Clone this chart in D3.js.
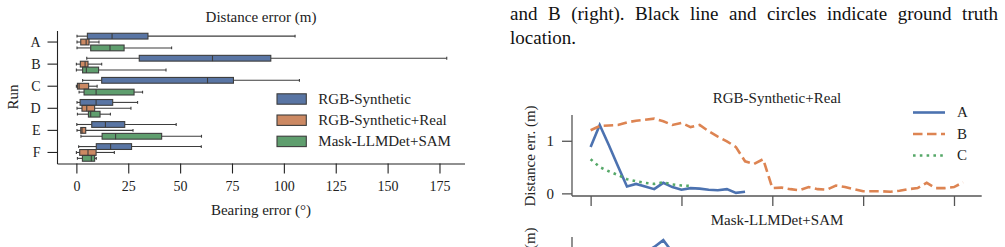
<!doctype html>
<html>
<head>
<meta charset="UTF-8" />
<script src="https://cdn.jsdelivr.net/npm/d3@7"></script>
<style>
  body { margin: 0; background: #fff; }
  svg { display: block; font-family: "Liberation Serif", "Times New Roman", serif; }
</style>
</head>
<body>
<svg id="page" width="1005" height="247"></svg>
<script>
// ---- data ----
const runs = ["A", "B", "C", "D", "E", "F"];
const methods = ["RGB-Synthetic", "RGB-Synthetic+Real", "Mask-LLMDet+SAM"];
// per run: [whisker low, q1, median, q3, whisker high] of bearing error (deg)
const rgbSynthetic = [[0.3, 5.3, 17.2, 34.5, 105.4], [5.0, 30.3, 65.6, 93.7, 178.5], [3.0, 12.2, 63.2, 75.7, 107.5],
  [0.3, 1.8, 9.5, 17.5, 29.5], [0.2, 7.4, 14.0, 23.3, 48.1], [1.1, 9.6, 16.5, 26.6, 60.2]];
const rgbSynthReal = [[0.3, 2.1, 4.7, 6.1, 10.9], [0, 1.9, 4.2, 5.6, 12.2], [0, 0.5, 1.3, 5.9, 10.0],
  [0.3, 2.7, 5.0, 8.8, 26.3], [0.3, 2.1, 2.7, 4.5, 27.3], [0, 1.6, 5.6, 9.5, 18.3]];
const maskLLMDet = [[0.3, 6.9, 16.2, 23.0, 45.9], [0, 3.0, 4.8, 10.7, 43.2], [1.3, 3.7, 9.5, 27.8, 31.9],
  [0.5, 5.8, 6.9, 11.4, 16.4], [2.2, 12.4, 18.9, 41.1, 60.3], [0.5, 2.9, 7.2, 8.8, 9.6]];
const bearingTicks = [0, 25, 50, 75, 100, 125, 150, 175];

// distance error per frame, RGB-Synthetic+Real panel
const realA = [0.88, 1.30, 0.92, 0.52, 0.13, 0.18, 0.13, 0.08, 0.20, 0.12, 0.07, 0.10, 0.09, 0.07, 0.06, 0.08, 0.01, 0.03];
const realB = [1.20, 1.28, 1.29, 1.30, 1.35, 1.38, 1.40, 1.42, 1.37, 1.30, 1.34, 1.26, 1.30, 1.18, 1.08, 0.99, 0.88,
  0.61, 0.56, 0.65, 0.10, 0.11, 0.08, 0.06, 0.12, 0.08, 0.07, 0.15, 0.12, 0.08, 0.04, 0.04, 0.04, 0.03, 0.05, 0.08,
  0.10, 0.20, 0.10, 0.10, 0.12, 0.21];
const realC = [0.65, 0.50, 0.42, 0.35, 0.27, 0.23, 0.20, 0.18, 0.21, 0.17, 0.15, 0.14];
// Mask-LLMDet+SAM panel (only its top edge is in view)
const maskA = [0.6, 0.8, 0.9, 1.0, 1.05, 1.1, 1.2, 1.30, 1.43, 1.20, 0.9, 0.7];
const distTicks = [0, 1];
const frameTicks = [0, 10, 20, 30, 40];

const captionLines = ["and B (right). Black line and circles indicate ground truth", "location."];

const boxColors = ["#5975a4", "#cc8963", "#5f9e6e"];
const lineColors = ["#4c72b0", "#dd8452", "#55a868"];
const edge = "#3d3d3d";

const svg = d3.select("#page");

// ---------- left: box plot ----------
const x = d3.scaleLinear().domain([-9.1, 187.3]).range([57.5, 465]);
const y = d3.scaleBand().domain(runs).range([31, 163.5]);
const hue = d3.scaleBand().domain(methods).range([-0.4 * y.bandwidth(), 0.4 * y.bandwidth()]);

const left = svg.append("g");
const series = [rgbSynthetic, rgbSynthReal, maskLLMDet];

series.forEach((rows, m) => {
  const g = left.append("g");
  rows.forEach((s, i) => {
    const c = y(runs[i]) + y.bandwidth() / 2 + hue(methods[m]) + hue.bandwidth() / 2;
    const h = hue.bandwidth() * 0.98;
    // whiskers
    g.append("line").attr("x1", x(s[0])).attr("x2", x(s[1])).attr("y1", c).attr("y2", c)
      .attr("stroke", edge).attr("stroke-width", 1.1);
    g.append("line").attr("x1", x(s[3])).attr("x2", x(s[4])).attr("y1", c).attr("y2", c)
      .attr("stroke", edge).attr("stroke-width", 1.1);
    // caps
    [s[0], s[4]].forEach(v => {
      g.append("line").attr("x1", x(v)).attr("x2", x(v)).attr("y1", c - h / 4).attr("y2", c + h / 4)
        .attr("stroke", edge).attr("stroke-width", 1.1);
    });
    g.append("rect").attr("x", x(s[1])).attr("y", c - h / 2).attr("width", x(s[3]) - x(s[1])).attr("height", h)
      .attr("fill", boxColors[m]).attr("stroke", edge).attr("stroke-width", 1.1);
    g.append("line").attr("x1", x(s[2])).attr("x2", x(s[2])).attr("y1", c - h / 2).attr("y2", c + h / 2)
      .attr("stroke", edge).attr("stroke-width", 1.1);
  });
});

const xAxis = left.append("g").attr("transform", "translate(0,163.5)")
  .call(d3.axisBottom(x).tickValues(bearingTicks).tickSize(10).tickSizeOuter(0).tickPadding(8));
const yAxis = left.append("g").attr("transform", "translate(57.5,0)")
  .call(d3.axisLeft(y).tickSize(10).tickSizeOuter(0).tickPadding(7));
[xAxis, yAxis].forEach(a => {
  a.attr("font-family", null).attr("font-size", 14);
  a.selectAll("text").attr("fill", "#222");
  a.selectAll("line, path").attr("stroke", "#222").attr("stroke-width", 1.1);
});
xAxis.select(".domain").attr("d", "M57.5,0.5H465");
yAxis.select(".domain").attr("d", "M0,31V164");

left.append("text").attr("x", 261).attr("y", 22).attr("text-anchor", "middle")
  .attr("font-size", 15).attr("fill", "#222").text("Distance error (m)");
left.append("text").attr("x", 261).attr("y", 215).attr("text-anchor", "middle")
  .attr("font-size", 15).attr("fill", "#222").text("Bearing error (°)");
left.append("text").attr("transform", "translate(18,97) rotate(-90)").attr("text-anchor", "middle")
  .attr("font-size", 15).attr("fill", "#222").text("Run");

const leg = left.append("g").attr("transform", "translate(277,99)");
methods.forEach((name, m) => {
  const r = leg.append("g").attr("transform", `translate(0,${m * 21.2})`);
  r.append("rect").attr("x", 0).attr("y", -5.2).attr("width", 29.3).attr("height", 10.4)
    .attr("fill", boxColors[m]).attr("stroke", edge).attr("stroke-width", 1.1);
  r.append("text").attr("x", 41.3).attr("y", 0).attr("dy", "0.33em").attr("font-size", 15)
    .attr("fill", "#222").text(name);
});

// ---------- right: caption text (justified) ----------
const cap = svg.append("g").attr("font-size", 19).attr("fill", "#111");
const words = captionLines[0].split(" ");
const wEls = words.map(w => cap.append("text").attr("y", 20).text(w));
const widths = wEls.map(t => t.node().getComputedTextLength());
const x0 = 510, x1 = 998;
const gap = (x1 - x0 - d3.sum(widths)) / (words.length - 1);
let cx = x0;
wEls.forEach((t, i) => { t.attr("x", cx); cx += widths[i] + gap; });
cap.append("text").attr("x", x0).attr("y", 44).text(captionLines[1]);

// ---------- right: line panels ----------
const fx = d3.scaleLinear().domain([-2.05, 43.05]).range([572, 981.7]);
const line = yS => d3.line().x((d, i) => fx(i)).y(d => yS(d));
const styles = [
  { dash: null, w: 2.6 },
  { dash: "9.5,4.5", w: 2.6 },
  { dash: "2.6,4.2", w: 2.6 }
];

function panel(top, title, data, withLegend) {
  const g = svg.append("g");
  const yS = d3.scaleLinear().domain([-0.05, 1.49]).range([top + 81, top]);
  g.append("text").attr("x", 777).attr("y", top - 12).attr("text-anchor", "middle")
    .attr("font-size", 15).attr("fill", "#222").text(title);
  data.forEach((d, k) => {
    if (!d) return;
    g.append("path").datum(d).attr("d", line(yS)).attr("fill", "none")
      .attr("stroke", lineColors[k]).attr("stroke-width", styles[k].w)
      .attr("stroke-dasharray", styles[k].dash);
  });
  const ya = g.append("g").attr("transform", "translate(572,0)")
    .call(d3.axisLeft(yS).tickValues(distTicks).tickFormat(d3.format("d")).tickSize(10).tickSizeOuter(0).tickPadding(8));
  const xa = g.append("g").attr("transform", `translate(0,${top + 81})`)
    .call(d3.axisBottom(fx).tickValues(frameTicks).tickFormat("").tickSize(10).tickSizeOuter(0));
  [xa, ya].forEach(a => {
    a.attr("font-family", null).attr("font-size", 15);
    a.selectAll("text").attr("fill", "#222");
    a.selectAll("line, path").attr("stroke", "#555").attr("stroke-width", 1.3);
  });
  ya.select(".domain").attr("d", `M0,${top}V${top + 81}`);
  xa.select(".domain").attr("d", "M572,0H981.7");
  g.append("text").attr("transform", `translate(535,${top + 41}) rotate(-90)`).attr("text-anchor", "middle")
    .attr("font-size", 15).attr("fill", "#222").text("Distance err. (m)");
  if (withLegend) {
    const lg = g.append("g").attr("transform", "translate(913,112.5)");
    ["A", "B", "C"].forEach((n, k) => {
      const r = lg.append("g").attr("transform", `translate(0,${k * 21.5})`);
      r.append("line").attr("x1", 0).attr("x2", 32).attr("stroke", lineColors[k])
        .attr("stroke-width", styles[k].w).attr("stroke-dasharray", styles[k].dash);
      r.append("text").attr("x", 44).attr("dy", "0.33em").attr("font-size", 15).attr("fill", "#222").text(n);
    });
  }
}

panel(115, "RGB-Synthetic+Real", [realA, realB, realC], true);
panel(237, "Mask-LLMDet+SAM", [maskA, null, null], false);
</script>
</body>
</html>
